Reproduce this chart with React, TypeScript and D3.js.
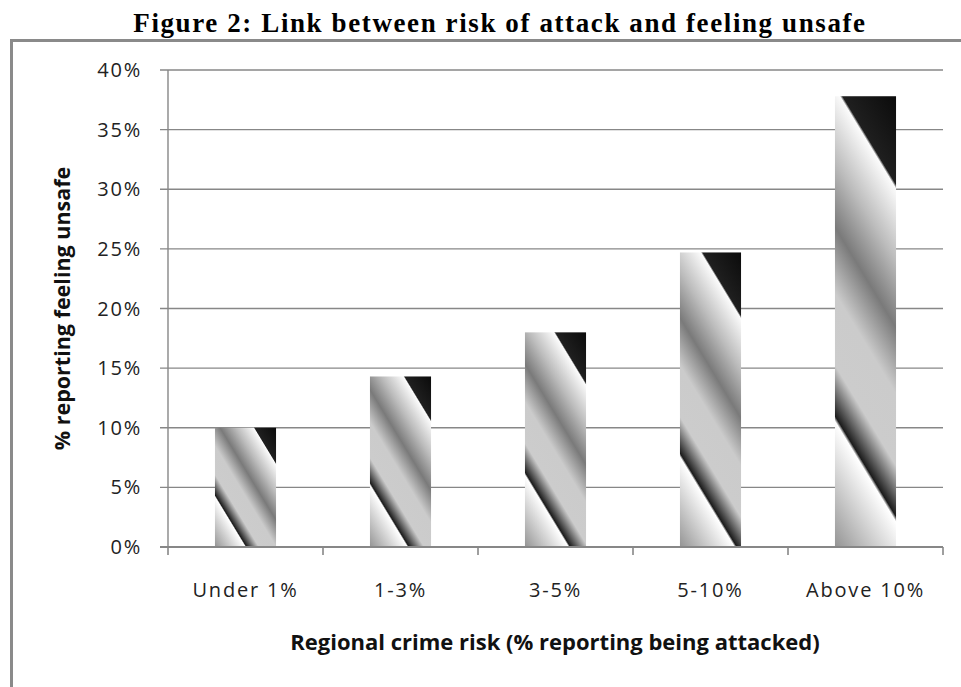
import React from "react";
import * as d3 from "d3";

const categories = ["Under 1%", "1-3%", "3-5%", "5-10%", "Above 10%"];
const values = [10.0, 14.3, 18.0, 24.7, 37.8];
const yTicks = [0, 5, 10, 15, 20, 25, 30, 35, 40];

const title = "Figure 2: Link between risk of attack and feeling unsafe";
const yTitle = "% reporting feeling unsafe";
const xTitle = "Regional crime risk (% reporting being attacked)";

const gradStops: [number, string][] = [
  [0, "#0b0b0b"],
  [0.16, "#1f1f1f"],
  [0.168, "#fbfbfb"],
  [0.3, "#bcbcbc"],
  [0.42, "#7a7a7a"],
  [0.54, "#cbcbcb"],
  [0.67, "#cccccc"],
  [0.762, "#1c1c1c"],
  [0.772, "#ffffff"],
  [1, "#949494"],
];

const W = 961;
const H = 687;
const left = 168;
const right = 943;
const top = 70;
const bottom = 547;
const slope = 1.65;
const tickFont = "'Open Sans', 'DejaVu Sans', sans-serif";
const grid = "#878787";

export default function App() {
  const x = d3
    .scaleBand<string>()
    .domain(categories)
    .range([left, right])
    .paddingInner(0.606)
    .paddingOuter(0.303);
  const y = d3.scaleLinear().domain([0, 40]).range([bottom, top]);
  const step = x.step();
  const norm = Math.sqrt(1 + slope * slope);
  const dx = -slope / norm;
  const dy = 1 / norm;

  return (
    <svg
      width={W}
      height={H}
      style={{ position: "absolute", left: 0, top: 0, display: "block", background: "#fff" }}
    >
      <defs>
        {categories.map((c, i) => {
          const bx = x(c)!;
          const bw = x.bandwidth();
          const by = y(values[i]);
          const bh = y(0) - by;
          const L = (slope * bw + bh) / norm;
          const x1 = bx + bw;
          const y1 = by;
          return (
            <linearGradient
              key={c}
              id={`g${i}`}
              gradientUnits="userSpaceOnUse"
              x1={x1}
              y1={y1}
              x2={x1 + dx * L}
              y2={y1 + dy * L}
            >
              {gradStops.map(([o, col], k) => (
                <stop key={k} offset={o} stopColor={col} />
              ))}
            </linearGradient>
          );
        })}
      </defs>

      <text
        x={500}
        y={32}
        textAnchor="middle"
        fontFamily="'Liberation Serif', 'Times New Roman', serif"
        fontWeight="bold"
        fontSize={27}
        letterSpacing={1.6}
        fill="#000"
      >
        {title}
      </text>

      <rect x={11.5} y={40.5} width={1000} height={700} fill="none" stroke="#8a8a8a" strokeWidth={3} />

      {/* gridlines */}
      {yTicks.map((t) => (
        <line
          key={t}
          x1={left - 8}
          x2={right}
          y1={y(t)}
          y2={y(t)}
          stroke={grid}
          strokeWidth={t === 0 ? 2 : 1.4}
        />
      ))}
      {/* y axis line */}
      <line x1={left} x2={left} y1={y(40)} y2={y(0)} stroke={grid} strokeWidth={1.4} />
      {/* x ticks */}
      {d3.range(categories.length + 1).map((k) => (
        <line
          key={k}
          x1={left + k * step}
          x2={left + k * step}
          y1={bottom}
          y2={bottom + 8}
          stroke={grid}
          strokeWidth={1.6}
        />
      ))}

      {/* bars */}
      {categories.map((c, i) => (
        <rect
          key={c}
          x={x(c)}
          y={y(values[i])}
          width={x.bandwidth()}
          height={y(0) - y(values[i])}
          fill={`url(#g${i})`}
        />
      ))}
      {/* redraw baseline over bars */}
      <line x1={left - 8} x2={right} y1={y(0)} y2={y(0)} stroke={grid} strokeWidth={2} />

      {/* y tick labels */}
      {yTicks.map((t) => (
        <text
          key={t}
          x={142}
          y={y(t) + 7}
          textAnchor="end"
          fontFamily={tickFont}
          fontSize={20}
          letterSpacing={1.8}
          fill="#222"
        >
          {`${t}%`}
        </text>
      ))}

      {/* x tick labels */}
      {categories.map((c) => (
        <text
          key={c}
          x={x(c)! + x.bandwidth() / 2}
          y={597}
          textAnchor="middle"
          fontFamily={tickFont}
          fontSize={20}
          letterSpacing={1.8}
          fill="#222"
        >
          {c}
        </text>
      ))}

      {/* axis titles */}
      <text
        transform={`translate(70, ${(top + bottom) / 2}) rotate(-90)`}
        textAnchor="middle"
        fontFamily={tickFont}
        fontWeight="bold"
        fontSize={21.5}
        fill="#111"
      >
        {yTitle}
      </text>
      <text
        x={555}
        y={650}
        textAnchor="middle"
        fontFamily={tickFont}
        fontWeight="bold"
        fontSize={22}
        fill="#111"
      >
        {xTitle}
      </text>
    </svg>
  );
}
